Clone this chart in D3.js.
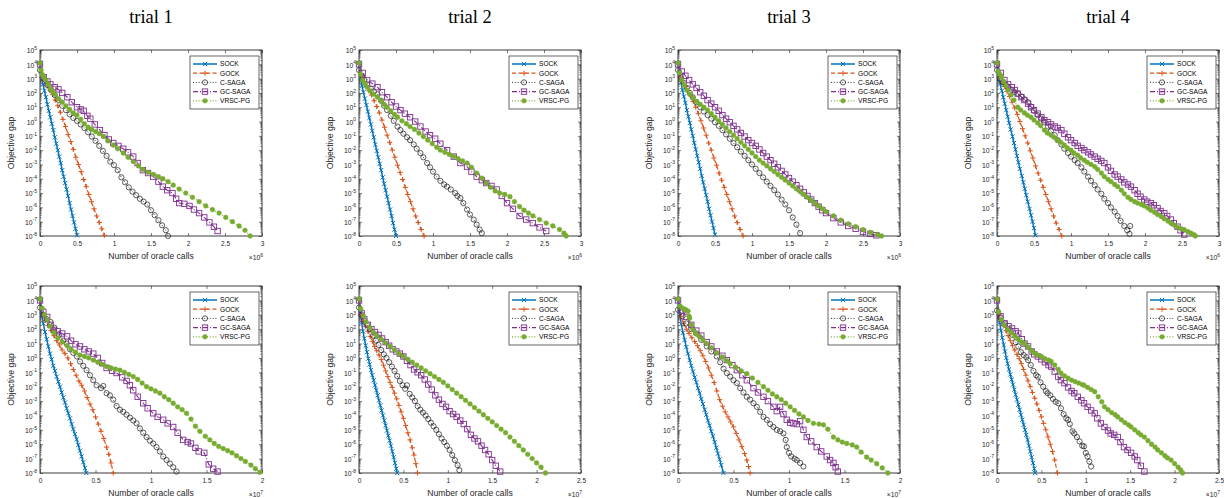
<!DOCTYPE html>
<html><head><meta charset="utf-8">
<script src="https://cdn.jsdelivr.net/npm/d3@7"></script>
<style>body{margin:0;background:#fff}svg{display:block}</style>
</head><body>
<svg id="c" width="1224" height="498"></svg>
<script>
// ---------- labels ----------
const seriesNames = ["SOCK","GOCK","C-SAGA","GC-SAGA","VRSC-PG"];
const trialTitles = ["trial 1","trial 2","trial 3","trial 4"];
const xTicksTop = [0,0.5,1,1.5,2,2.5,3];
const xTicksB20 = [0,0.5,1,1.5,2];
const xTicksB25 = [0,0.5,1,1.5,2,2.5];
const yTickExps = [-8,-7,-6,-5,-4,-3,-2,-1,0,1,2,3,4,5];
const xLabel = "Number of oracle calls";
const yLabel = "Objective gap";
// data: [oracle calls (x 1e6 top row, x 1e7 bottom row), log10(objective gap)]
// ---------- top row, trial 1 ----------
const sockT1=[[0,4.1],[0.02,3.2],[0.04,2.6],[0.06,2.15],[0.08,1.7],[0.1,1.2],[0.12,0.75],[0.14,0.3],[0.16,-0.15],[0.18,-0.6],[0.2,-1.1],[0.22,-1.55],[0.24,-2.0],[0.26,-2.45],[0.28,-2.9],[0.3,-3.4],[0.32,-3.85],[0.34,-4.3],[0.36,-4.75],[0.38,-5.2],[0.4,-5.7],[0.42,-6.15],[0.44,-6.6],[0.46,-7.05],[0.48,-7.5],[0.5,-7.95]];
const gockT1=[[0,4.1],[0.03,3.1],[0.065,2.8],[0.1,2.5],[0.135,2.2],[0.17,1.9],[0.205,1.5],[0.24,1.1],[0.275,0.65],[0.31,0.15],[0.345,-0.35],[0.38,-0.9],[0.415,-1.4],[0.45,-1.95],[0.485,-2.5],[0.52,-3.0],[0.555,-3.5],[0.59,-4.05],[0.625,-4.55],[0.66,-5.1],[0.695,-5.6],[0.73,-6.1],[0.765,-6.6],[0.8,-7.05],[0.835,-7.5],[0.87,-7.95]];
const csagaT1=[[0,3.6],[0.05,3.0],[0.1,2.55],[0.15,2.2],[0.2,1.85],[0.25,1.5],[0.3,1.1],[0.35,0.8],[0.4,0.5],[0.45,0.25],[0.5,0.05],[0.55,-0.2],[0.6,-0.45],[0.65,-0.75],[0.7,-1.05],[0.75,-1.35],[0.8,-1.7],[0.85,-2.05],[0.9,-2.4],[0.95,-2.8],[1.0,-3.05],[1.05,-3.4],[1.1,-3.9],[1.15,-4.25],[1.2,-4.6],[1.25,-4.9],[1.3,-5.15],[1.35,-5.4],[1.4,-5.6],[1.45,-5.8],[1.5,-6.2],[1.55,-6.55],[1.6,-6.9],[1.65,-7.25],[1.7,-7.6],[1.73,-8.0]];
const gcsagaT1=[[0,4.0],[0.05,3.1],[0.1,2.8],[0.14,2.6],[0.2,2.4],[0.25,2.25],[0.3,2.0],[0.37,1.7],[0.43,1.35],[0.5,1.0],[0.55,0.85],[0.59,0.75],[0.64,0.4],[0.68,0.2],[0.74,-0.2],[0.81,-0.6],[0.87,-0.95],[0.93,-1.25],[0.99,-1.5],[1.06,-1.7],[1.125,-1.9],[1.19,-2.15],[1.26,-2.45],[1.32,-2.9],[1.39,-3.4],[1.46,-3.6],[1.53,-3.85],[1.6,-4.2],[1.66,-4.55],[1.72,-4.8],[1.79,-5.0],[1.84,-5.4],[1.88,-5.7],[1.95,-5.75],[2.02,-5.9],[2.08,-6.15],[2.15,-6.4],[2.22,-6.7],[2.29,-7.05],[2.35,-7.35],[2.4,-7.65]];
const vrscT1=[[0,4.1],[0.015,3.6],[0.03,3.3],[0.05,3.1],[0.08,2.9],[0.11,2.6],[0.14,2.3],[0.17,2.1],[0.2,1.9],[0.25,1.6],[0.3,1.35],[0.35,1.1],[0.4,0.85],[0.45,0.6],[0.5,0.45],[0.55,0.15],[0.6,-0.15],[0.65,-0.4],[0.7,-0.55],[0.75,-0.7],[0.8,-0.85],[0.86,-1.05],[0.92,-1.35],[0.99,-1.65],[1.05,-1.9],[1.125,-2.2],[1.19,-2.5],[1.26,-2.8],[1.33,-3.1],[1.39,-3.35],[1.46,-3.55],[1.53,-3.7],[1.6,-3.85],[1.66,-4.0],[1.73,-4.2],[1.8,-4.45],[1.88,-4.72],[1.97,-5.0],[2.06,-5.3],[2.15,-5.6],[2.24,-5.9],[2.33,-6.15],[2.42,-6.4],[2.51,-6.7],[2.6,-7.0],[2.69,-7.3],[2.77,-7.6],[2.84,-8.0]];
// ---------- top row, trial 2 ----------
const sockT2=[[0,4.1],[0.02,3.1],[0.04,2.5],[0.06,2.05],[0.08,1.6],[0.1,1.15],[0.12,0.7],[0.14,0.25],[0.16,-0.2],[0.18,-0.65],[0.2,-1.1],[0.22,-1.6],[0.24,-2.05],[0.26,-2.5],[0.28,-2.95],[0.3,-3.4],[0.32,-3.9],[0.34,-4.35],[0.36,-4.8],[0.38,-5.25],[0.4,-5.7],[0.42,-6.15],[0.44,-6.6],[0.46,-7.1],[0.48,-7.55],[0.5,-8.0]];
const gockT2=[[0,4.1],[0.03,3.15],[0.065,2.8],[0.1,2.45],[0.135,2.15],[0.17,1.85],[0.205,1.45],[0.24,1.05],[0.275,0.6],[0.31,0.1],[0.345,-0.4],[0.38,-0.95],[0.415,-1.45],[0.45,-2.0],[0.485,-2.5],[0.52,-3.05],[0.555,-3.55],[0.59,-4.05],[0.625,-4.6],[0.66,-5.1],[0.695,-5.6],[0.73,-6.1],[0.765,-6.6],[0.8,-7.05],[0.84,-7.55],[0.88,-8.0]];
const csagaT2=[[0,3.6],[0.04,3.2],[0.07,2.9],[0.11,2.6],[0.16,2.3],[0.2,2.1],[0.25,1.9],[0.3,1.45],[0.34,1.1],[0.38,0.8],[0.43,0.4],[0.47,0.05],[0.52,-0.35],[0.56,-0.6],[0.6,-0.85],[0.65,-1.1],[0.69,-1.3],[0.74,-1.6],[0.78,-1.9],[0.83,-2.2],[0.87,-2.5],[0.92,-2.9],[0.96,-3.2],[1.0,-3.5],[1.05,-3.85],[1.1,-4.15],[1.15,-4.4],[1.19,-4.55],[1.24,-4.75],[1.3,-5.0],[1.33,-5.2],[1.37,-5.35],[1.41,-5.7],[1.46,-6.15],[1.5,-6.5],[1.55,-6.85],[1.59,-7.2],[1.63,-7.55],[1.66,-7.8]];
const gcsagaT2=[[0,4.0],[0.05,3.4],[0.11,2.9],[0.18,2.65],[0.25,2.4],[0.31,2.05],[0.38,1.7],[0.44,1.35],[0.5,1.05],[0.56,0.8],[0.62,0.55],[0.69,0.3],[0.76,0.0],[0.83,-0.35],[0.9,-0.7],[0.96,-0.95],[1.03,-1.2],[1.1,-1.55],[1.19,-2.0],[1.28,-2.45],[1.37,-2.9],[1.46,-3.15],[1.52,-3.5],[1.59,-3.85],[1.66,-4.1],[1.72,-4.3],[1.79,-4.5],[1.86,-4.75],[1.93,-5.2],[2.0,-5.7],[2.08,-6.1],[2.17,-6.6],[2.26,-6.85],[2.35,-7.1],[2.44,-7.4],[2.53,-7.65]];
const vrscT2=[[0,4.1],[0.02,3.3],[0.05,2.9],[0.08,2.65],[0.11,2.4],[0.15,2.15],[0.2,1.9],[0.25,1.7],[0.3,1.45],[0.34,1.2],[0.38,1.0],[0.43,0.75],[0.48,0.5],[0.52,0.3],[0.58,0.05],[0.64,-0.15],[0.69,-0.35],[0.75,-0.55],[0.81,-0.8],[0.87,-1.05],[0.93,-1.3],[0.99,-1.55],[1.05,-1.8],[1.1,-2.0],[1.16,-2.15],[1.22,-2.3],[1.28,-2.45],[1.34,-2.6],[1.4,-2.75],[1.46,-2.9],[1.52,-3.2],[1.59,-3.6],[1.66,-3.95],[1.72,-4.3],[1.78,-4.6],[1.84,-4.85],[1.9,-5.0],[1.97,-5.1],[2.04,-5.25],[2.1,-5.6],[2.17,-5.95],[2.23,-6.2],[2.29,-6.4],[2.35,-6.6],[2.44,-6.85],[2.53,-7.1],[2.62,-7.3],[2.71,-7.55],[2.77,-7.8],[2.8,-8.0]];
// ---------- top row, trial 3 ----------
const sockT3=[[0,4.1],[0.02,3.3],[0.04,2.7],[0.06,2.2],[0.08,1.75],[0.1,1.3],[0.12,0.8],[0.14,0.35],[0.16,-0.1],[0.18,-0.55],[0.2,-1.0],[0.22,-1.5],[0.24,-1.95],[0.26,-2.4],[0.28,-2.85],[0.3,-3.3],[0.32,-3.8],[0.34,-4.25],[0.36,-4.7],[0.38,-5.15],[0.4,-5.6],[0.42,-6.1],[0.44,-6.55],[0.46,-7.0],[0.48,-7.45],[0.5,-7.9]];
const gockT3=[[0,4.1],[0.03,3.1],[0.065,2.75],[0.1,2.45],[0.135,2.15],[0.17,1.8],[0.205,1.4],[0.24,1.0],[0.275,0.55],[0.31,0.05],[0.345,-0.45],[0.38,-0.95],[0.415,-1.5],[0.45,-2.0],[0.485,-2.55],[0.52,-3.05],[0.555,-3.6],[0.59,-4.1],[0.625,-4.6],[0.66,-5.1],[0.695,-5.6],[0.73,-6.1],[0.765,-6.6],[0.8,-7.05],[0.84,-7.55],[0.88,-8.0]];
const csagaT3=[[0,3.6],[0.04,3.1],[0.08,2.7],[0.12,2.35],[0.16,2.0],[0.2,1.7],[0.25,1.35],[0.3,1.0],[0.35,0.7],[0.4,0.45],[0.45,0.2],[0.5,-0.05],[0.55,-0.3],[0.6,-0.6],[0.65,-0.9],[0.7,-1.2],[0.75,-1.5],[0.8,-1.8],[0.85,-2.1],[0.9,-2.4],[0.95,-2.7],[1.0,-3.0],[1.05,-3.3],[1.1,-3.6],[1.15,-3.9],[1.2,-4.2],[1.25,-4.5],[1.3,-4.8],[1.35,-5.1],[1.4,-5.45],[1.45,-5.8],[1.5,-6.2],[1.55,-6.7],[1.6,-7.2],[1.65,-7.8]];
const gcsagaT3=[[0,4.0],[0.05,3.5],[0.1,3.2],[0.15,2.9],[0.2,2.6],[0.25,2.35],[0.3,2.05],[0.35,1.8],[0.4,1.5],[0.45,1.25],[0.5,1.0],[0.55,0.75],[0.6,0.45],[0.65,0.2],[0.7,-0.05],[0.75,-0.3],[0.8,-0.55],[0.85,-0.8],[0.9,-1.05],[0.95,-1.3],[1.0,-1.5],[1.05,-1.7],[1.1,-1.95],[1.15,-2.2],[1.2,-2.45],[1.25,-2.7],[1.3,-2.95],[1.35,-3.2],[1.4,-3.45],[1.45,-3.7],[1.5,-3.95],[1.55,-4.2],[1.6,-4.45],[1.65,-4.7],[1.7,-4.95],[1.75,-5.2],[1.8,-5.45],[1.85,-5.7],[1.9,-5.95],[1.95,-6.2],[2.0,-6.4],[2.1,-6.75],[2.2,-7.05],[2.3,-7.3],[2.4,-7.5],[2.5,-7.7],[2.6,-7.85],[2.68,-7.95]];
const vrscT3=[[0,4.1],[0.02,3.4],[0.05,2.9],[0.08,2.55],[0.12,2.2],[0.16,1.9],[0.2,1.65],[0.25,1.4],[0.3,1.2],[0.35,1.0],[0.4,0.8],[0.45,0.55],[0.5,0.3],[0.55,0.05],[0.6,-0.2],[0.65,-0.45],[0.7,-0.7],[0.75,-0.95],[0.8,-1.2],[0.85,-1.45],[0.9,-1.7],[0.95,-1.95],[1.0,-2.2],[1.05,-2.45],[1.1,-2.7],[1.15,-2.9],[1.2,-3.1],[1.25,-3.3],[1.3,-3.5],[1.35,-3.7],[1.4,-3.9],[1.45,-4.1],[1.5,-4.3],[1.55,-4.5],[1.6,-4.7],[1.65,-4.9],[1.7,-5.1],[1.75,-5.3],[1.8,-5.5],[1.85,-5.7],[1.9,-5.9],[1.95,-6.1],[2.0,-6.3],[2.1,-6.6],[2.2,-6.9],[2.3,-7.15],[2.4,-7.35],[2.5,-7.55],[2.6,-7.75],[2.7,-7.9],[2.75,-8.0]];
// ---------- top row, trial 4 ----------
const sockT4=[[0,4.1],[0.02,3.2],[0.04,2.65],[0.065,2.15],[0.085,1.7],[0.105,1.25],[0.125,0.8],[0.145,0.35],[0.165,-0.1],[0.185,-0.55],[0.21,-1.05],[0.23,-1.5],[0.25,-1.95],[0.27,-2.4],[0.29,-2.85],[0.31,-3.3],[0.335,-3.8],[0.355,-4.25],[0.375,-4.7],[0.395,-5.15],[0.415,-5.6],[0.44,-6.1],[0.46,-6.55],[0.48,-7.0],[0.5,-7.45],[0.52,-7.95]];
const gockT4=[[0,4.1],[0.03,3.1],[0.065,2.75],[0.1,2.45],[0.135,2.1],[0.17,1.75],[0.205,1.35],[0.24,0.95],[0.275,0.5],[0.31,0.0],[0.345,-0.5],[0.38,-1.0],[0.415,-1.5],[0.45,-2.05],[0.485,-2.55],[0.52,-3.1],[0.555,-3.6],[0.59,-4.1],[0.625,-4.6],[0.66,-5.1],[0.695,-5.6],[0.73,-6.1],[0.765,-6.6],[0.8,-7.1],[0.84,-7.55],[0.875,-8.0]];
const csagaT4=[[0,3.6],[0.04,3.0],[0.08,2.75],[0.12,2.55],[0.15,2.4],[0.2,2.2],[0.24,2.05],[0.28,1.95],[0.33,1.75],[0.37,1.55],[0.42,1.35],[0.46,1.05],[0.5,0.75],[0.55,0.45],[0.6,0.2],[0.64,-0.05],[0.69,-0.35],[0.73,-0.65],[0.78,-0.95],[0.82,-1.3],[0.87,-1.6],[0.91,-1.9],[0.96,-2.2],[1.0,-2.45],[1.05,-2.7],[1.09,-2.9],[1.14,-3.2],[1.18,-3.5],[1.23,-3.85],[1.27,-4.15],[1.32,-4.45],[1.36,-4.75],[1.41,-5.05],[1.45,-5.4],[1.5,-5.7],[1.54,-6.0],[1.59,-6.3],[1.63,-6.6],[1.67,-6.95],[1.72,-7.3],[1.76,-7.6],[1.8,-7.3],[1.79,-7.85]];
const gcsagaT4=[[0,4.0],[0.05,3.4],[0.1,2.9],[0.15,2.6],[0.2,2.4],[0.24,2.2],[0.28,1.95],[0.33,1.7],[0.37,1.5],[0.42,1.25],[0.46,1.0],[0.5,0.8],[0.55,0.55],[0.6,0.3],[0.64,0.1],[0.69,-0.05],[0.73,-0.2],[0.78,-0.35],[0.82,-0.45],[0.87,-0.6],[0.91,-0.85],[0.96,-1.1],[1.0,-1.3],[1.05,-1.5],[1.09,-1.7],[1.14,-1.85],[1.18,-2.0],[1.23,-2.15],[1.27,-2.3],[1.32,-2.45],[1.36,-2.6],[1.41,-2.75],[1.45,-2.9],[1.5,-3.2],[1.54,-3.45],[1.59,-3.7],[1.63,-3.85],[1.68,-4.05],[1.72,-4.25],[1.77,-4.4],[1.81,-4.55],[1.86,-4.8],[1.9,-5.05],[1.94,-5.25],[1.99,-5.45],[2.03,-5.6],[2.08,-5.7],[2.12,-5.85],[2.17,-6.05],[2.21,-6.25],[2.26,-6.4],[2.3,-6.6],[2.35,-6.85],[2.39,-7.1],[2.44,-7.35],[2.48,-7.6],[2.53,-7.9]];
const vrscT4=[[0,4.1],[0.02,3.5],[0.04,3.3],[0.06,3.1],[0.09,2.8],[0.12,2.5],[0.15,2.2],[0.19,1.85],[0.23,1.5],[0.28,1.0],[0.32,0.8],[0.37,0.6],[0.41,0.45],[0.46,0.3],[0.5,0.1],[0.55,-0.1],[0.59,-0.3],[0.64,-0.6],[0.68,-0.8],[0.73,-0.95],[0.77,-1.1],[0.82,-1.3],[0.86,-1.45],[0.91,-1.65],[0.95,-1.85],[1.0,-2.0],[1.04,-2.2],[1.09,-2.35],[1.13,-2.55],[1.18,-2.7],[1.22,-2.85],[1.27,-3.0],[1.32,-3.15],[1.36,-3.35],[1.41,-3.6],[1.45,-3.85],[1.5,-4.05],[1.54,-4.2],[1.59,-4.4],[1.63,-4.55],[1.68,-4.8],[1.72,-5.05],[1.77,-5.3],[1.81,-5.45],[1.86,-5.6],[1.9,-5.7],[1.95,-5.8],[1.99,-5.9],[2.04,-6.05],[2.08,-6.2],[2.13,-6.35],[2.17,-6.5],[2.22,-6.65],[2.26,-6.8],[2.31,-6.95],[2.35,-7.1],[2.4,-7.25],[2.44,-7.4],[2.49,-7.5],[2.53,-7.55],[2.58,-7.7],[2.62,-7.8],[2.66,-7.9],[2.68,-8.0]];
// ---------- bottom row, trial 1 ----------
const sockB1=[[0,4.1],[0.015,3.0],[0.03,2.4],[0.045,1.8],[0.06,1.3],[0.075,0.8],[0.09,0.3],[0.105,-0.1],[0.12,-0.55],[0.135,-0.9],[0.15,-1.3],[0.165,-1.65],[0.18,-2.0],[0.195,-2.4],[0.21,-2.75],[0.225,-3.1],[0.24,-3.5],[0.255,-3.85],[0.27,-4.2],[0.285,-4.6],[0.3,-4.95],[0.315,-5.3],[0.33,-5.65],[0.345,-6.05],[0.36,-6.45],[0.375,-6.85],[0.39,-7.25],[0.405,-7.65],[0.417,-8.0]];
const gockB1=[[0,4.1],[0.025,3.0],[0.05,2.6],[0.075,2.25],[0.1,1.9],[0.125,1.55],[0.15,1.2],[0.175,0.9],[0.2,0.55],[0.225,0.3],[0.25,0.0],[0.275,-0.4],[0.3,-0.8],[0.325,-1.2],[0.35,-1.6],[0.375,-1.9],[0.4,-2.3],[0.425,-2.75],[0.45,-3.2],[0.475,-3.6],[0.5,-4.1],[0.525,-4.6],[0.55,-5.1],[0.575,-5.6],[0.6,-6.2],[0.62,-6.7],[0.64,-7.3],[0.66,-8.0]];
const csagaB1=[[0,3.5],[0.03,3.0],[0.06,2.7],[0.095,2.5],[0.13,2.1],[0.17,1.6],[0.21,1.2],[0.24,1.0],[0.27,0.6],[0.3,0.35],[0.333,0.1],[0.36,-0.25],[0.39,-0.55],[0.42,-0.85],[0.45,-1.2],[0.48,-1.55],[0.51,-1.9],[0.55,-2.1],[0.57,-1.95],[0.6,-2.45],[0.63,-2.6],[0.66,-2.9],[0.69,-3.35],[0.72,-3.6],[0.75,-3.75],[0.78,-3.95],[0.81,-4.15],[0.84,-4.35],[0.87,-4.55],[0.9,-4.9],[0.93,-5.2],[0.96,-5.5],[0.99,-5.75],[1.02,-5.95],[1.05,-6.2],[1.08,-6.5],[1.11,-6.85],[1.14,-7.1],[1.17,-7.35],[1.2,-7.6],[1.23,-7.9]];
const gcsagaB1=[[0,4.0],[0.03,3.2],[0.065,2.85],[0.095,2.3],[0.125,1.95],[0.16,1.85],[0.2,1.7],[0.244,1.5],[0.28,1.2],[0.32,0.95],[0.36,0.8],[0.4,0.6],[0.44,0.45],[0.48,0.3],[0.52,0.0],[0.56,-0.35],[0.6,-0.7],[0.65,-0.9],[0.69,-1.05],[0.74,-1.35],[0.78,-1.6],[0.81,-1.9],[0.84,-2.25],[0.88,-2.7],[0.93,-3.15],[0.97,-3.5],[1.02,-3.85],[1.06,-4.1],[1.11,-4.3],[1.15,-4.55],[1.2,-4.8],[1.24,-5.2],[1.29,-5.7],[1.33,-5.85],[1.36,-5.95],[1.4,-6.25],[1.43,-6.5],[1.48,-6.6],[1.52,-7.4],[1.56,-7.7],[1.6,-7.9]];
const vrscB1=[[0,4.1],[0.02,3.45],[0.04,3.0],[0.065,2.65],[0.09,2.2],[0.125,1.75],[0.16,1.4],[0.2,1.1],[0.244,0.85],[0.28,0.6],[0.32,0.4],[0.36,0.2],[0.4,0.1],[0.44,0.0],[0.48,-0.15],[0.52,-0.3],[0.56,-0.45],[0.6,-0.6],[0.64,-0.7],[0.68,-0.78],[0.72,-0.85],[0.76,-1.0],[0.8,-1.15],[0.84,-1.3],[0.88,-1.5],[0.92,-1.75],[0.96,-2.0],[1.0,-2.15],[1.04,-2.3],[1.08,-2.45],[1.12,-2.7],[1.16,-2.9],[1.2,-3.15],[1.24,-3.4],[1.28,-3.6],[1.32,-3.85],[1.36,-4.25],[1.4,-4.75],[1.44,-5.1],[1.49,-5.45],[1.53,-5.7],[1.57,-5.95],[1.61,-6.15],[1.65,-6.3],[1.69,-6.45],[1.73,-6.6],[1.77,-6.8],[1.81,-7.0],[1.85,-7.2],[1.9,-7.45],[1.94,-7.7],[1.98,-7.95]];
// ---------- bottom row, trial 2 ----------
const sockB2=[[0,4.1],[0.015,3.1],[0.03,2.45],[0.045,1.85],[0.06,1.35],[0.075,0.85],[0.09,0.4],[0.105,-0.05],[0.12,-0.45],[0.135,-0.85],[0.15,-1.2],[0.165,-1.55],[0.18,-1.9],[0.195,-2.25],[0.21,-2.6],[0.225,-2.95],[0.24,-3.3],[0.255,-3.65],[0.27,-4.0],[0.285,-4.35],[0.3,-4.7],[0.315,-5.05],[0.33,-5.4],[0.345,-5.75],[0.36,-6.1],[0.375,-6.5],[0.39,-6.9],[0.405,-7.3],[0.42,-7.7],[0.43,-8.0]];
const gockB2=[[0,4.1],[0.025,3.0],[0.05,2.55],[0.075,2.2],[0.1,1.85],[0.125,1.5],[0.15,1.15],[0.175,0.8],[0.2,0.5],[0.225,0.2],[0.25,-0.1],[0.275,-0.5],[0.3,-0.9],[0.325,-1.3],[0.35,-1.7],[0.375,-2.05],[0.4,-2.45],[0.425,-2.85],[0.45,-3.3],[0.475,-3.75],[0.5,-4.2],[0.525,-4.7],[0.55,-5.2],[0.575,-5.7],[0.6,-6.25],[0.62,-6.75],[0.64,-7.35],[0.66,-8.0]];
const csagaB2=[[0,3.5],[0.03,3.0],[0.06,2.6],[0.09,2.3],[0.12,2.0],[0.16,1.55],[0.19,1.2],[0.22,0.9],[0.25,0.55],[0.28,0.25],[0.31,0.0],[0.34,-0.3],[0.37,-0.6],[0.4,-0.9],[0.43,-1.25],[0.46,-1.6],[0.49,-1.9],[0.52,-2.15],[0.54,-1.9],[0.57,-2.5],[0.6,-2.75],[0.63,-3.0],[0.66,-3.35],[0.69,-3.6],[0.72,-3.8],[0.75,-4.0],[0.78,-4.25],[0.81,-4.5],[0.84,-4.75],[0.87,-5.0],[0.9,-5.3],[0.93,-5.6],[0.96,-5.85],[0.99,-6.1],[1.02,-6.4],[1.05,-6.75],[1.08,-7.1],[1.11,-7.45],[1.13,-7.8]];
const gcsagaB2=[[0,4.0],[0.03,3.1],[0.06,2.7],[0.1,2.3],[0.14,2.0],[0.18,1.8],[0.22,1.6],[0.26,1.35],[0.3,1.1],[0.34,0.85],[0.38,0.6],[0.42,0.45],[0.46,0.3],[0.5,0.1],[0.54,-0.2],[0.58,-0.5],[0.62,-0.8],[0.66,-1.0],[0.7,-1.2],[0.74,-1.5],[0.78,-1.85],[0.82,-2.2],[0.86,-2.6],[0.9,-2.9],[0.94,-3.2],[0.98,-3.4],[1.02,-3.7],[1.06,-3.9],[1.1,-4.1],[1.14,-4.35],[1.18,-4.6],[1.22,-4.95],[1.26,-5.35],[1.3,-5.6],[1.34,-5.8],[1.38,-6.1],[1.42,-6.4],[1.46,-6.7],[1.5,-7.1],[1.54,-7.5],[1.59,-7.9]];
const vrscB2=[[0,4.1],[0.02,3.4],[0.05,2.9],[0.08,2.5],[0.12,2.1],[0.16,1.8],[0.2,1.55],[0.25,1.3],[0.3,1.05],[0.35,0.8],[0.4,0.55],[0.45,0.3],[0.5,0.1],[0.55,-0.1],[0.6,-0.3],[0.65,-0.5],[0.7,-0.7],[0.75,-0.9],[0.8,-1.1],[0.85,-1.3],[0.9,-1.5],[0.95,-1.7],[1.0,-1.95],[1.05,-2.2],[1.1,-2.45],[1.15,-2.7],[1.2,-2.95],[1.25,-3.2],[1.3,-3.45],[1.35,-3.7],[1.4,-3.95],[1.45,-4.2],[1.5,-4.45],[1.55,-4.7],[1.6,-4.95],[1.65,-5.2],[1.7,-5.5],[1.75,-5.8],[1.8,-6.1],[1.85,-6.4],[1.9,-6.7],[1.95,-7.0],[2.0,-7.3],[2.05,-7.6],[2.1,-8.0]];
// ---------- bottom row, trial 3 ----------
const sockB3=[[0,4.1],[0.015,3.0],[0.03,2.35],[0.045,1.75],[0.06,1.25],[0.075,0.75],[0.09,0.3],[0.105,-0.15],[0.12,-0.55],[0.135,-0.95],[0.15,-1.35],[0.165,-1.7],[0.18,-2.1],[0.195,-2.45],[0.21,-2.85],[0.225,-3.2],[0.24,-3.6],[0.255,-3.95],[0.27,-4.35],[0.285,-4.7],[0.3,-5.1],[0.315,-5.45],[0.33,-5.85],[0.345,-6.25],[0.36,-6.65],[0.375,-7.05],[0.39,-7.45],[0.41,-8.0]];
const gockB3=[[0,4.1],[0.025,2.9],[0.05,2.4],[0.075,2.0],[0.1,1.7],[0.125,1.4],[0.15,1.15],[0.175,0.85],[0.2,0.5],[0.225,0.15],[0.25,-0.25],[0.275,-0.7],[0.3,-1.2],[0.325,-1.7],[0.35,-2.3],[0.375,-2.9],[0.4,-3.35],[0.425,-3.75],[0.45,-4.1],[0.475,-4.45],[0.5,-4.8],[0.525,-5.25],[0.55,-5.7],[0.575,-6.15],[0.6,-6.65],[0.62,-7.1],[0.635,-7.55],[0.65,-8.0]];
const csagaB3=[[0,3.35],[0.04,2.9],[0.075,2.4],[0.12,2.0],[0.165,1.7],[0.21,1.25],[0.26,0.8],[0.3,0.45],[0.35,0.1],[0.38,-0.3],[0.41,-0.75],[0.44,-1.05],[0.47,-1.3],[0.5,-1.55],[0.53,-1.75],[0.56,-2.1],[0.59,-2.4],[0.62,-2.7],[0.65,-2.9],[0.68,-3.15],[0.71,-3.4],[0.74,-3.75],[0.77,-4.1],[0.8,-4.3],[0.83,-4.6],[0.86,-4.8],[0.89,-5.0],[0.92,-5.1],[0.95,-5.25],[0.97,-5.7],[0.98,-6.2],[1.0,-6.6],[1.02,-6.85],[1.05,-7.0],[1.07,-7.1],[1.1,-7.3],[1.13,-7.55]];
const gcsagaB3=[[0,4.0],[0.04,3.3],[0.075,2.85],[0.12,2.3],[0.165,1.9],[0.21,1.55],[0.26,1.1],[0.3,0.8],[0.35,0.45],[0.4,0.15],[0.44,-0.15],[0.49,-0.5],[0.53,-0.85],[0.58,-1.2],[0.62,-1.55],[0.68,-2.1],[0.72,-2.4],[0.77,-2.7],[0.81,-3.0],[0.86,-3.4],[0.89,-3.7],[0.92,-3.4],[0.95,-3.9],[0.98,-4.3],[1.01,-4.5],[1.04,-4.55],[1.07,-4.6],[1.1,-4.4],[1.13,-5.0],[1.16,-5.5],[1.2,-5.8],[1.25,-6.2],[1.29,-6.5],[1.34,-6.85],[1.37,-7.1],[1.4,-7.3],[1.42,-7.6],[1.44,-7.9]];
const vrscB3=[[0,4.1],[0.02,3.6],[0.045,3.45],[0.07,3.35],[0.09,3.25],[0.1,2.9],[0.105,2.75],[0.12,2.3],[0.135,1.95],[0.16,1.7],[0.19,1.5],[0.225,1.25],[0.26,1.0],[0.3,0.7],[0.35,0.35],[0.4,0.05],[0.44,-0.2],[0.47,-0.4],[0.52,-0.65],[0.57,-0.9],[0.62,-1.1],[0.67,-1.4],[0.72,-1.7],[0.77,-2.0],[0.81,-2.25],[0.85,-2.5],[0.89,-2.7],[0.93,-2.9],[0.97,-3.15],[1.01,-3.4],[1.05,-3.65],[1.09,-3.9],[1.13,-4.1],[1.17,-4.35],[1.22,-4.55],[1.27,-4.6],[1.31,-4.65],[1.35,-4.95],[1.4,-5.5],[1.44,-5.7],[1.48,-5.85],[1.52,-5.95],[1.57,-6.05],[1.61,-6.2],[1.65,-6.55],[1.7,-6.9],[1.74,-7.1],[1.79,-7.35],[1.84,-7.65],[1.89,-8.0]];
// ---------- bottom row, trial 4 ----------
const sockB4=[[0,4.1],[0.015,3.1],[0.03,2.45],[0.045,1.9],[0.06,1.4],[0.075,0.9],[0.09,0.45],[0.105,0.0],[0.12,-0.4],[0.135,-0.8],[0.15,-1.15],[0.165,-1.5],[0.18,-1.85],[0.195,-2.2],[0.21,-2.55],[0.225,-2.9],[0.24,-3.25],[0.255,-3.6],[0.27,-3.95],[0.285,-4.3],[0.3,-4.65],[0.315,-5.0],[0.33,-5.35],[0.345,-5.7],[0.36,-6.1],[0.375,-6.5],[0.39,-6.9],[0.405,-7.3],[0.42,-7.7],[0.43,-8.0]];
const gockB4=[[0,4.1],[0.025,3.0],[0.05,2.6],[0.075,2.25],[0.1,1.9],[0.125,1.55],[0.15,1.2],[0.175,0.85],[0.2,0.55],[0.225,0.25],[0.25,-0.05],[0.275,-0.4],[0.3,-0.8],[0.325,-1.2],[0.35,-1.6],[0.375,-2.0],[0.4,-2.4],[0.425,-2.8],[0.45,-3.2],[0.475,-3.65],[0.5,-4.1],[0.525,-4.55],[0.55,-5.0],[0.575,-5.5],[0.6,-6.0],[0.625,-6.5],[0.65,-7.1],[0.68,-8.0]];
const csagaB4=[[0,3.3],[0.04,2.8],[0.086,2.4],[0.13,2.0],[0.17,1.6],[0.21,1.1],[0.24,0.8],[0.27,0.4],[0.3,0.2],[0.33,0.05],[0.35,-0.15],[0.38,-0.5],[0.41,-0.9],[0.44,-1.2],[0.46,-1.3],[0.49,-1.7],[0.52,-2.0],[0.55,-2.3],[0.57,-2.45],[0.6,-2.6],[0.63,-2.85],[0.66,-3.05],[0.69,-3.15],[0.72,-3.5],[0.75,-3.9],[0.78,-4.2],[0.8,-4.3],[0.82,-4.6],[0.85,-5.1],[0.87,-5.25],[0.9,-5.5],[0.93,-5.8],[0.96,-6.1],[0.98,-6.15],[1.0,-6.6],[1.02,-6.85],[1.04,-7.2],[1.06,-7.55]];
const gcsagaB4=[[0,4.0],[0.04,2.9],[0.086,2.4],[0.13,2.2],[0.17,2.05],[0.21,1.85],[0.24,1.7],[0.28,1.3],[0.31,1.0],[0.35,0.8],[0.39,0.45],[0.42,0.25],[0.46,0.1],[0.5,-0.1],[0.54,-0.3],[0.58,-0.5],[0.61,-0.6],[0.65,-0.95],[0.69,-1.3],[0.72,-1.55],[0.76,-1.75],[0.8,-2.05],[0.84,-2.3],[0.87,-2.45],[0.91,-2.7],[0.95,-2.95],[0.98,-3.15],[1.02,-3.4],[1.06,-3.65],[1.1,-3.85],[1.13,-4.2],[1.17,-4.55],[1.21,-4.8],[1.25,-5.05],[1.28,-5.25],[1.32,-5.35],[1.36,-5.5],[1.39,-5.85],[1.43,-6.2],[1.47,-6.4],[1.51,-6.6],[1.55,-6.85],[1.58,-7.1],[1.62,-7.5],[1.66,-7.9]];
const vrscB4=[[0,4.1],[0.02,3.2],[0.05,2.65],[0.08,2.3],[0.12,2.0],[0.16,1.75],[0.2,1.5],[0.24,1.3],[0.28,1.1],[0.31,1.0],[0.35,0.75],[0.39,0.5],[0.43,0.3],[0.46,0.2],[0.5,0.1],[0.54,-0.05],[0.58,-0.15],[0.61,-0.25],[0.65,-0.5],[0.69,-0.8],[0.72,-1.05],[0.76,-1.25],[0.8,-1.4],[0.84,-1.55],[0.88,-1.65],[0.92,-1.75],[0.96,-1.85],[0.98,-1.9],[1.02,-2.05],[1.06,-2.2],[1.1,-2.35],[1.14,-2.7],[1.18,-3.05],[1.21,-3.4],[1.25,-3.6],[1.29,-3.8],[1.33,-3.95],[1.36,-4.1],[1.4,-4.3],[1.44,-4.5],[1.48,-4.65],[1.51,-4.8],[1.55,-5.0],[1.59,-5.2],[1.62,-5.35],[1.66,-5.5],[1.7,-5.75],[1.74,-6.0],[1.78,-6.2],[1.81,-6.4],[1.85,-6.6],[1.89,-6.8],[1.92,-6.95],[1.96,-7.1],[2.0,-7.35],[2.04,-7.6],[2.07,-7.8],[2.09,-8.0]];

// ---------- panel table (built from the arrays above) ----------
const panels = [
  {row:0,col:0,xmax:3,xt:xTicksTop,exp:6,data:[sockT1,gockT1,csagaT1,gcsagaT1,vrscT1]},
  {row:0,col:1,xmax:3,xt:xTicksTop,exp:6,data:[sockT2,gockT2,csagaT2,gcsagaT2,vrscT2]},
  {row:0,col:2,xmax:3,xt:xTicksTop,exp:6,data:[sockT3,gockT3,csagaT3,gcsagaT3,vrscT3]},
  {row:0,col:3,xmax:3,xt:xTicksTop,exp:6,data:[sockT4,gockT4,csagaT4,gcsagaT4,vrscT4]},
  {row:1,col:0,xmax:2,xt:xTicksB20,exp:7,data:[sockB1,gockB1,csagaB1,gcsagaB1,vrscB1]},
  {row:1,col:1,xmax:2.5,xt:xTicksB25,exp:7,data:[sockB2,gockB2,csagaB2,gcsagaB2,vrscB2]},
  {row:1,col:2,xmax:2,xt:xTicksB20,exp:7,data:[sockB3,gockB3,csagaB3,gcsagaB3,vrscB3]},
  {row:1,col:3,xmax:2.5,xt:xTicksB25,exp:7,data:[sockB4,gockB4,csagaB4,gcsagaB4,vrscB4]}
];

// ---------- styles ----------
const colors = ["#0072BD","#D95319","#1a1a1a","#7E2F8E","#77AC30"];
const dashes = [null,"4,2.5","1,1.8","5,2,1,2","1,1.8"];
const lineW  = [1.5,1.2,0.9,1.1,1.2];
const markers= ["x","+","o","s","dot"];
const FONT = 'Arial, "Liberation Sans", Helvetica, sans-serif';

const colLeft=[40,359,678,997], PW=222;
const rowTop=[50,286], PH=[186,187];

const svg = d3.select("#c");

function marker(g, type, c){
  if(type==="x"){ const a=2.1; g.append("path").attr("d",`M${-a},${-a}L${a},${a}M${-a},${a}L${a},${-a}`).attr("stroke",c).attr("stroke-width",1).attr("fill","none"); }
  else if(type==="+"){ const a=2.6; g.append("path").attr("d",`M${-a},0L${a},0M0,${-a}L0,${a}`).attr("stroke",c).attr("stroke-width",1).attr("fill","none"); }
  else if(type==="o"){ g.append("circle").attr("r",2.6).attr("fill","none").attr("stroke",c).attr("stroke-width",0.7); }
  else if(type==="s"){ g.append("rect").attr("x",-2.7).attr("y",-2.7).attr("width",5.4).attr("height",5.4).attr("fill","none").attr("stroke",c).attr("stroke-width",0.9); }
  else { g.append("circle").attr("r",2.4).attr("fill",c).attr("stroke",c).attr("stroke-width",0.4); }
}

// titles
trialTitles.forEach((t,i)=>{
  svg.append("text").attr("x",colLeft[i]+PW/2).attr("y",23).attr("text-anchor","middle")
    .attr("font-family",'"Liberation Serif","DejaVu Serif",serif').attr("font-size",18.5).attr("fill","#000").text(t);
});

panels.forEach(p=>{
  const x0=colLeft[p.col], y0=rowTop[p.row], h=PH[p.row];
  const xs=d3.scaleLinear().domain([0,p.xmax]).range([x0,x0+PW]);
  const ys=d3.scaleLog().domain([1e-8,1e5]).range([y0+h,y0]);
  const g=svg.append("g");

  const majors=yTickExps.map(e=>Math.pow(10,e));
  const minors=[]; for(let e=-8;e<5;e++) for(let m=2;m<10;m++) minors.push(m*Math.pow(10,e));
  const ax=[
    [d3.axisBottom(xs).tickValues(p.xt).tickSizeInner(-3).tickSizeOuter(0).tickPadding(5).tickFormat(d3.format("")), `translate(0,${y0+h})`, true],
    [d3.axisTop(xs).tickValues(p.xt).tickSizeInner(-3).tickSizeOuter(0).tickFormat(""), `translate(0,${y0})`, false],
    [d3.axisLeft(ys).tickValues(majors).tickSizeInner(-3).tickSizeOuter(0).tickFormat(""), `translate(${x0},0)`, false],
    [d3.axisLeft(ys).tickValues(minors).tickSizeInner(-1.6).tickSizeOuter(0).tickFormat(""), `translate(${x0},0)`, false],
    [d3.axisRight(ys).tickValues(majors).tickSizeInner(-3).tickSizeOuter(0).tickFormat(""), `translate(${x0+PW},0)`, false],
    [d3.axisRight(ys).tickValues(minors).tickSizeInner(-1.6).tickSizeOuter(0).tickFormat(""), `translate(${x0+PW},0)`, false]
  ];
  ax.forEach(([a,tr,lab])=>{
    const ag=g.append("g").attr("transform",tr).call(a);
    ag.select(".domain").remove();
    ag.selectAll("line").attr("stroke","#262626").attr("stroke-width",0.6);
    if(lab) ag.selectAll("text").attr("font-family",FONT).attr("font-size",6.6).attr("fill","#262626");
  });
  yTickExps.forEach(e=>{
    const t=g.append("text").attr("x",x0-3).attr("y",ys(Math.pow(10,e))+3.2).attr("text-anchor","end")
      .attr("font-family",FONT).attr("font-size",6.8).attr("fill","#262626");
    t.append("tspan").text("10");
    t.append("tspan").attr("dy",-3.4).attr("font-size",5).text(String(e));
  });
  g.append("rect").attr("x",x0).attr("y",y0).attr("width",PW).attr("height",h)
    .attr("fill","none").attr("stroke","#262626").attr("stroke-width",0.9);
  g.append("text").attr("x",x0+PW/2).attr("y",y0+h+23).attr("text-anchor","middle")
    .attr("font-family",FONT).attr("font-size",8.6).attr("fill","#262626").text(xLabel);
  g.append("text").attr("transform",`translate(${x0-26},${y0+h/2}) rotate(-90)`).attr("text-anchor","middle")
    .attr("font-family",FONT).attr("font-size",8.6).attr("fill","#262626").text(yLabel);
  const xe=g.append("text").attr("x",x0+PW+1).attr("y",y0+h+24).attr("text-anchor","end")
    .attr("font-family",FONT).attr("font-size",6.8).attr("fill","#262626");
  xe.append("tspan").text("\u00d710");
  xe.append("tspan").attr("dy",-3.4).attr("font-size",5).text(String(p.exp));

  p.data.forEach((arr,si)=>{
    const pts=arr.map(d=>({x:d[0], y:Math.pow(10,d[1])}));
    const line=d3.line().x(d=>xs(d.x)).y(d=>ys(d.y));
    const path=g.append("path").datum(pts).attr("d",line).attr("fill","none")
      .attr("stroke",colors[si]).attr("stroke-width",lineW[si]);
    if(dashes[si]) path.attr("stroke-dasharray",dashes[si]);
    pts.forEach(d=>{ marker(g.append("g").attr("transform",`translate(${xs(d.x)},${ys(d.y)})`), markers[si], colors[si]); });
  });

  const lx=x0+PW-72, ly=y0+6;
  const lg=g.append("g");
  lg.append("rect").attr("x",lx).attr("y",ly).attr("width",69).attr("height",53)
    .attr("fill","#fff").attr("stroke","#262626").attr("stroke-width",0.7);
  seriesNames.forEach((n,si)=>{
    const yy=ly+8+si*9.2;
    const l=lg.append("line").attr("x1",lx+3).attr("x2",lx+27).attr("y1",yy).attr("y2",yy)
      .attr("stroke",colors[si]).attr("stroke-width",lineW[si]);
    if(dashes[si]) l.attr("stroke-dasharray",dashes[si]);
    marker(lg.append("g").attr("transform",`translate(${lx+15},${yy})`), markers[si], colors[si]);
    lg.append("text").attr("x",lx+30).attr("y",yy+2.4).attr("font-family",FONT).attr("font-size",6.6)
      .attr("fill","#000").text(n);
  });
});
</script>
</body></html>
